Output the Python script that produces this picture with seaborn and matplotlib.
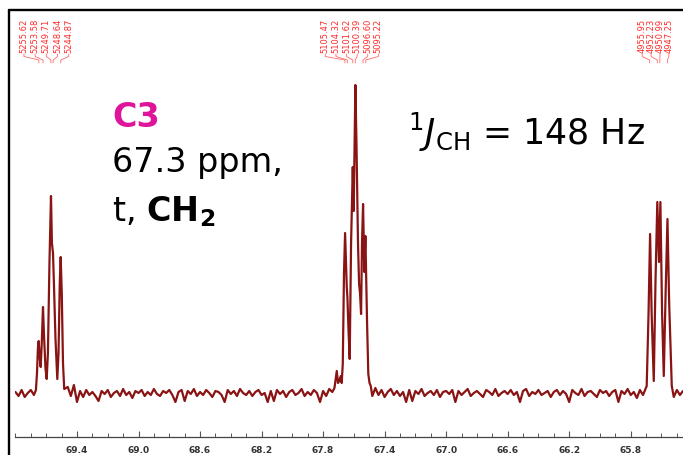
import numpy as np
import pandas as pd
import matplotlib
matplotlib.use('Agg')
import matplotlib.pyplot as plt
import seaborn as sns
from matplotlib.lines import Line2D
from matplotlib.ticker import FixedLocator, MultipleLocator, FormatStrFormatter
import matplotlib.transforms as mtransforms

# ---------------- data (ppm, intensity) ----------------
seg1_ppm = [69.80, 69.78, 69.76, 69.74, 69.72, 69.70, 69.68]
seg1_int = [1, -3, 3, -4, 0, 3, -2]

left_ppm = [69.667, 69.660, 69.654, 69.649, 69.644, 69.636, 69.629, 69.621, 69.615, 69.605,
            69.597, 69.589, 69.579, 69.569, 69.563, 69.556, 69.550, 69.540, 69.528, 69.520,
            69.512, 69.506, 69.499, 69.491, 69.483]
left_int = [3, 20, 45, 52, 38, 26, 50, 86, 60, 25,
            14, 40, 130, 197, 150, 140, 110, 55, 14, 40,
            110, 136, 100, 30, 4]

seg2_ppm = [69.46, 69.44, 69.42, 69.40, 69.38, 69.36, 69.34, 69.32, 69.30, 69.28,
            69.26, 69.24, 69.22, 69.20, 69.18, 69.16, 69.14, 69.12, 69.10, 69.08,
            69.06, 69.04, 69.02, 69.00, 68.98, 68.96, 68.94, 68.92, 68.90, 68.88,
            68.86, 68.84, 68.82, 68.80, 68.78, 68.76, 68.74, 68.72, 68.70, 68.68,
            68.66, 68.64, 68.62, 68.60, 68.58, 68.56, 68.54, 68.52, 68.50, 68.48,
            68.46, 68.44, 68.42, 68.40, 68.38, 68.36, 68.34, 68.32, 68.30, 68.28,
            68.26, 68.24, 68.22, 68.20, 68.18, 68.16, 68.14, 68.12, 68.10, 68.08,
            68.06, 68.04, 68.02, 68.00, 67.98, 67.96, 67.94, 67.92, 67.90, 67.88,
            67.86, 67.84, 67.82, 67.80, 67.78, 67.76, 67.74]
seg2_int = [6, -3, 8, -9, 2, -4, 3, -2, 1, -3,
            -8, 2, -1, 3, -4, 0, 2, -3, 4, -2,
            1, -5, 2, 0, 3, -3, 1, -2, 4, -1,
            -3, 2, 0, 3, -2, -9, 1, 3, -8, 2,
            -1, 4, -3, 1, -2, 3, 0, -4, 2, 1,
            -2, -9, 3, -1, 2, -3, 4, 0, -2, 2,
            -3, 1, 3, -2, 0, -9, 2, -8, 3, -1,
            2, -4, 1, 3, -2, 0, 4, -3, 1, -2,
            3, 0, -9, 2, -3, 4, 1]

center_ppm = [67.726, 67.711, 67.703, 67.696, 67.685, 67.679, 67.672, 67.664, 67.657, 67.646,
              67.642, 67.634, 67.627, 67.618, 67.607, 67.601, 67.590, 67.583, 67.573, 67.566,
              67.560, 67.553, 67.547, 67.540, 67.532, 67.525, 67.514, 67.506, 67.498, 67.490]
center_int = [5, 22, 10, 12, 17, 10, 29, 120, 160, 106,
              96, 60, 34, 150, 226, 182, 308, 250, 150, 109,
              100, 79, 150, 189, 121, 157, 70, 19, 10, 7]

seg3_ppm = [67.48, 67.46, 67.44, 67.42, 67.40, 67.38, 67.36, 67.34, 67.32, 67.30,
            67.28, 67.26, 67.24, 67.22, 67.20, 67.18, 67.16, 67.14, 67.12, 67.10,
            67.08, 67.06, 67.04, 67.02, 67.00, 66.98, 66.96, 66.94, 66.92, 66.90,
            66.88, 66.86, 66.84, 66.82, 66.80, 66.78, 66.76, 66.74, 66.72, 66.70,
            66.68, 66.66, 66.64, 66.62, 66.60, 66.58, 66.56, 66.54, 66.52, 66.50,
            66.48, 66.46, 66.44, 66.42, 66.40, 66.38, 66.36, 66.34, 66.32, 66.30,
            66.28, 66.26, 66.24, 66.22, 66.20, 66.18, 66.16, 66.14, 66.12, 66.10,
            66.08, 66.06, 66.04, 66.02, 66.00, 65.98, 65.96, 65.94, 65.92, 65.90,
            65.88, 65.86, 65.84, 65.82, 65.80, 65.78, 65.76, 65.74, 65.72]
seg3_int = [-3, 5, -2, 3, -4, 1, 4, -2, 2, -3,
            1, -9, 3, -8, 2, -1, 4, -3, 0, 2,
            -2, 3, -4, 1, 2, -1, 3, -9, 2, -2,
            1, 4, -3, 0, 2, -1, -4, 3, 1, -2,
            4, -3, 0, 2, -1, 3, -2, 1, -9, 2,
            4, -3, 1, -1, 3, -2, 0, 2, -4, 1,
            3, -2, 2, -1, -9, 3, 0, -2, 4, -3,
            1, 2, -1, -4, 3, 0, 2, -3, 1, 3,
            -9, 2, -1, 4, -2, 1, -5, 3, -2]

right_ppm = [65.696, 65.684, 65.674, 65.664, 65.650, 65.639, 65.627, 65.616, 65.607, 65.596,
             65.585, 65.573, 65.561, 65.550, 65.533]
right_int = [7, 80, 159, 80, 12, 110, 191, 131, 191, 80, 17, 100, 174, 90, 7]

seg4_ppm = [65.52, 65.50, 65.48, 65.46]
seg4_int = [-4, 3, -2, 2]

tick_values = [69.4, 69.0, 68.6, 68.2, 67.8, 67.4, 67.0, 66.6, 66.2, 65.8]

left_hz = [5255.62, 5253.58, 5249.71, 5248.64, 5244.87]
center_hz = [5105.47, 5104.32, 5101.62, 5100.39, 5096.60, 5095.22]
right_hz = [4955.95, 4952.23, 4950.99, 4947.25]
spectrometer_mhz = 75.46

# ---------------- figure ----------------
sns.set_theme(style='white')
plt.rcParams['font.family'] = ['DejaVu Sans']
plt.rcParams['mathtext.fontset'] = 'dejavusans'

W, H = 683, 456
fy = lambda y: 1 - y / H

fig = plt.figure(figsize=(W / 100, H / 100), dpi=100)
fig.patch.set_facecolor('white')
ax = fig.add_axes([15 / W, 18 / H, 668 / W, 426 / H])
ax.set_facecolor('none')

pairs = (list(zip(seg1_ppm, seg1_int)) + list(zip(left_ppm, left_int)) +
         list(zip(seg2_ppm, seg2_int)) + list(zip(center_ppm, center_int)) +
         list(zip(seg3_ppm, seg3_int)) + list(zip(right_ppm, right_int)) +
         list(zip(seg4_ppm, seg4_int)))
df = pd.DataFrame(pairs, columns=['ppm', 'intensity'])

sns.lineplot(data=df, x='ppm', y='intensity', sort=False, estimator=None,
             color='#8a1414', linewidth=1.6, ax=ax)

xl = (69.803, 65.46)
ax.set_xlim(*xl)
ax.set_ylim(-44, 382)
for s in ['top', 'right', 'left']:
    ax.spines[s].set_visible(False)
ax.spines['bottom'].set_color('#444444')
ax.spines['bottom'].set_linewidth(0.9)
ax.set_yticks([])
ax.set_xlabel('')
ax.set_ylabel('')
ax.xaxis.set_major_locator(FixedLocator(tick_values))
ax.xaxis.set_minor_locator(MultipleLocator(0.1))
ax.xaxis.set_major_formatter(FormatStrFormatter('%.1f'))
ax.tick_params(axis='x', which='both', direction='in', bottom=True, color='#555555')
ax.tick_params(axis='x', which='major', length=4, width=0.8, pad=5.5,
               labelsize=6.5, labelcolor='#333333')
ax.tick_params(axis='x', which='minor', length=3, width=0.7)
for lab in ax.get_xticklabels():
    lab.set_fontweight('bold')

# peak-label fans
blend = mtransforms.blended_transform_factory(ax.transData, fig.transFigure)
ppm_per_px = (xl[0] - xl[1]) / 668
red = '#ff2a2a'
for hz_list, spacing in [(left_hz, 11.2), (center_hz, 10.6), (right_hz, 8.9)]:
    peak_ppm = [h / spectrometer_mhz for h in hz_list]
    n = len(hz_list)
    mean = float(np.mean(peak_ppm))
    for k, (h, p) in enumerate(zip(hz_list, peak_ppm)):
        dx = (k - (n - 1) / 2) * spacing - 3
        lx = mean - dx * ppm_per_px
        ax.text(lx, fy(53), f'{h:.2f}', rotation=90, ha='center', va='bottom',
                transform=blend, fontsize=6, color=red, clip_on=False)
        ax.add_line(Line2D([lx, lx, p, p], [fy(55), fy(57.5), fy(61), fy(64)],
                           transform=blend, color='#ff6a6a', lw=0.6, clip_on=False))

# annotations
fig.text(112 / W, fy(127), 'C3', fontsize=24, fontweight='bold', color='#e0139b', va='baseline')
fig.text(112 / W, fy(172), '67.3 ppm,', fontsize=24, color='black', va='baseline')
fig.text(112 / W, fy(221.7), r't, $\mathbf{CH_2}$', fontsize=24, color='black', va='baseline')
fig.text(526 / W, fy(145), r'$^{1}\mathit{J}_{\mathrm{CH}}$ = 148 Hz', fontsize=25,
         color='black', ha='center', va='baseline')

# frame
fig.add_artist(Line2D([8.5 / W, 8.5 / W], [0, fy(10.5)], transform=fig.transFigure,
                      color='black', lw=1.7))
fig.add_artist(Line2D([8.5 / W, 1], [fy(10.5), fy(10.5)], transform=fig.transFigure,
                      color='black', lw=1.7))

fig.savefig('out.png', dpi=100)
